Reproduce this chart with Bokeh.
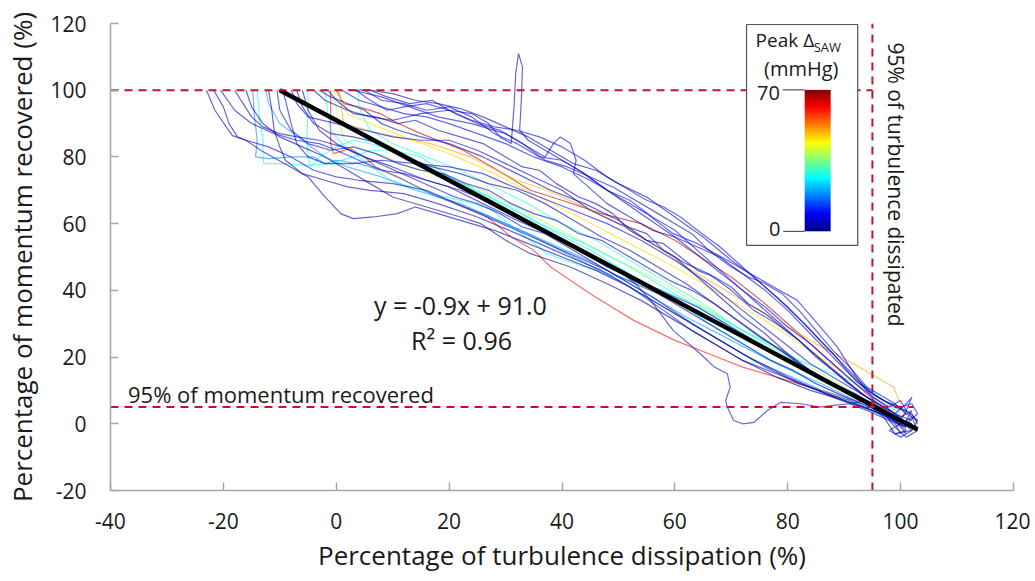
import numpy as np
from bokeh.plotting import figure
from bokeh.models import Range1d, FixedTicker, LinearColorMapper, ColumnDataSource
from bokeh.core.properties import value
from bokeh.embed import file_html
from bokeh.resources import INLINE

# ---------------- data ----------------
x_ticks = [-40, -20, 0, 20, 40, 60, 80, 100, 120]
y_ticks = [-20, 0, 20, 40, 60, 80, 100, 120]

fit_slope = -0.9
fit_intercept = 91.0
fit_x = [-10, 103]

momentum_95 = 5
turbulence_95 = 95
full_recovery = 100

colorbar_low = 0
colorbar_high = 70

# peak delta SAW (mmHg) of each run
peak_delta = [3, 5, 18, 4, 6, 26, 28, 60, 66, 50, 38, 46, 27, 20, 3, 5, 4, 6, 4, 7,
              2, 8, 3, 30, 5, 2, 9, 3, 6, 4, 5]

run01 = [(-23,100),(-21.5,94),(-19.5,89),(-18.4,86.4),(-16,85),(-13.4,82),(-8.1,77),(-5,74),(-2,68),(0.8,63),(3,61.5),(6.6,62),(10.8,63),(14,65),(18,63),(22,61),(28,58),(34,54),(40,50),(46,46),(52,41),(58,35),(64,29),(70,23),(76,17),(82,12),(87,9),(91,7),(95,4),(98,2),(101,-1)]
run02 = [(-21.7,100),(-20,95),(-19,90),(-17.5,86),(-16,85),(-12,83),(-8,80),(-4,76),(0,74),(4,73),(10,72),(16,70),(24,64),(32,58),(40,52),(48,46),(56,38),(64,29),(72,21),(80,14),(88,8),(94,4),(98,1),(101,-1)]
run03 = [(-14.8,100),(-14.5,92),(-14,85),(-14.3,80),(-12,79.5),(-8,80),(-4,80),(-2,78),(0,79),(4,78),(8,76),(12,73),(18,68),(26,63),(34,57),(42,50),(50,43),(58,35),(66,27),(74,19),(82,13),(90,7),(96,3),(100,0)]
run04 = [(-12,100),(-11.5,95),(-11,88),(-10,83),(-9,79),(-6,75),(-2,73),(2,71),(6,70),(12,69),(18,66),(25,62),(32,57),(40,51),(47,46),(52,41),(58,34),(63,28),(67,24),(72,19),(78,15),(84,11),(90,7),(95,4),(99,2),(102,0)]
run05 = [(-9.5,100),(-9,97),(-8,90),(-7,84),(-5,80),(-2,78),(3,78),(8,79),(14,78),(20,77),(26,75),(30,72),(36,68),(42,64),(48,60),(54,55),(60,49),(66,42),(72,34),(78,26),(84,18),(90,12),(95,7),(99,3),(102,1)]
run06 = [(-14,100),(-13.5,90),(-13,86),(-13,80),(-12.8,78),(-9,78),(-5,77.5),(-1,78),(3,80),(6,82),(10,82),(15,80),(20,74),(26,69),(32,64),(38,58),(45,52),(52,45),(60,37),(68,28),(76,20),(84,13),(90,8),(95,4),(99,1)]
run07 = [(-5,100),(-5,94),(-5.2,86),(-5,80),(-4.5,77),(-3,80),(0,83),(3,85),(6,84),(10,82),(14,79),(20,74),(28,67),(36,60),(44,54),(52,47),(60,39),(68,31),(76,23),(84,15),(90,10),(95,5),(99,2)]
run08 = [(-1,100),(-1,92),(-1,84),(-0.5,81),(2.5,82.5),(5,80),(7,77),(11,74),(15.5,70),(21,66),(26.8,62),(31,56),(35,52),(38,47),(45,39),(52.7,31),(60,25),(66,21),(72,17),(78,14),(84,11),(90,8),(94,6),(98,2)]
run09 = [(0,100),(1.3,96),(4,95),(7.8,93),(11,90),(15,87),(22.5,82),(28.6,76),(34.4,70),(40,67),(47,63),(54,60),(60,55),(64.5,50),(70,44),(76,36),(82,27),(88,18),(92,12),(96,6),(99,2)]
run10 = [(0.5,100),(1,94),(1.3,90),(7.8,87),(16.7,84),(23.8,80),(32,73),(37.4,70),(44,65),(50,60),(56,54),(62,47),(68,41),(74,35),(80,29),(86,23),(90.6,19),(94.7,15),(98.7,11),(100,6),(100.5,3)]
run11 = [(-0.5,100),(0,95),(0.5,90),(1.5,85),(5,82),(9,80),(13,77),(19,74),(26,70),(34,63),(42,56),(50,49),(58,42),(66,34),(74,26),(82,19),(88,13),(93,8),(97,4),(100,1)]
run12 = [(0.3,100),(1,97),(2,93),(6,90),(12,86),(20,81),(28,75),(36,68),(44,61),(52,54),(60,47),(68,39),(76,31),(84,22),(90,15),(95,9),(99,4)]
run13 = [(-2,100),(-1.5,93),(-1,88),(1,84),(4,80),(9.6,73),(16.7,69),(22,67),(27.3,64.5),(32,58),(37.4,51),(44,47),(52,43),(58,40),(64.5,35),(72,28),(78,23),(82,19),(88,15),(94,11),(97,7),(100,3)]
run14 = [(-12.5,100),(-12,96),(-10,90),(-6,85),(-2,80),(2,77),(8,74),(14,70),(22,66),(30,60),(38,54),(46,48),(54,40),(62,32),(70,25),(78,18),(86,12),(92,7),(97,3),(101,0)]
run15 = [(2,100),(6,100),(10,99),(14,97),(18,96),(22,94.5),(26,92),(30,89),(34,86),(38,82),(42,78),(46,76),(50,72),(55,68),(60,62),(65,56),(70,49),(74,44),(78,38),(83,30),(88,21),(92,14),(95,9),(98,6),(101,4),(103,1),(102,-2),(99,-3)]
run16 = [(3,100),(8,98),(13,95),(18,92),(24,90),(30,87),(34,83),(37,80),(38.5,84),(39.7,86),(41.5,84),(42.5,79),(42,75),(44,72),(48,66),(52,62),(56,58),(60,56),(64,53),(68,50),(72,45),(76,40),(80,34),(84,27),(88,20),(92,13),(96,8),(99,5),(102,3),(103,0)]
run17 = [(-4,100),(-2,97),(2,94),(6,92),(10,91),(15,93),(20,94),(24,93),(27,90),(29,86),(31,84),(31.5,95),(31.8,105),(32.3,111),(33,107),(32.8,97),(32.5,88),(34,85),(38,81),(43,76),(48,70),(54,63),(60,56),(66,48),(72,40),(78,31),(84,22),(89,15),(93,9),(96,6),(99,3),(101,0)]
run18 = [(-8,100),(-7,96),(-5,92),(0,90),(5,88),(10,86),(15,85),(20,85),(25,82),(30,78),(35,74),(40,70),(45,64),(50,60),(55,57),(58,52),(62,48),(66,45),(70,40),(74,34),(78,30),(82,25),(86,19),(90,13),(94,8),(97,4),(100,1),(102,-2),(100,-4),(98,-2)]
run19 = [(-6,100),(-5,94),(-3,88),(0,84),(5,80),(10,77),(16,73),(22,70),(28,66),(34,60),(40,55),(46,50),(50,46),(53,42),(55.7,37),(59.7,28),(64.5,21),(67,17),(69.3,15),(69.8,11),(69,7),(69.3,5),(70.4,1),(72,0),(74,0.4),(76.4,4),(78.7,6.4),(82.3,6),(85.8,5),(88,5.5),(91,6),(94,7),(96,5),(98,2),(100,-1),(101,-3)]
run20 = [(1,100),(4,97),(8,95),(12,93),(16,92),(20,90),(25,87),(30,84),(35,80),(40,77),(45,73),(50,68),(55,63),(59.7,57),(64,54),(69.3,49),(73.4,45),(77.5,41),(81.7,37),(85.8,29),(88.8,23),(91,17),(93,12),(95,8),(98,5),(100,7),(101,4),(100,1),(102,0)]
run21 = [(-16,100),(-15,95),(-13,90),(-10,86),(-6,83),(-2,80),(2,76),(6,72),(10,68),(16,65),(22,62),(25.6,60),(30,55),(34.4,51),(41.5,47),(48,42),(54,37),(60,31),(66,25),(72,19),(78,14),(84,10),(90,7),(95,4),(99,1),(101,-2)]
run22 = [(3.5,100),(6,97),(9,94),(12,95),(16,96),(20,94),(24,91),(28,89),(32,88),(36,86),(40,83),(44,79),(48,74),(52,70),(55,67),(58,65),(61,62),(64,58),(68,53),(72,47),(76,41),(80,35),(84,28),(88,21),(91,15),(94,10),(97,7),(100,5),(102,6),(103,3),(101,0)]
run23 = [(-3,100),(-1,98),(2,96),(5,94),(8,90),(11,88),(15,86),(20,84),(26,80),(32,75),(38,70),(44,66),(50,61),(55,55),(60,50),(64,44),(68,38),(72,32),(76,27),(80,21),(84,16),(88,12),(92,9),(95,6),(97,3),(99,-1),(101,-4),(103,-2),(102,2),(100,0),(98,-2)]
run24 = [(4,100),(4,95),(6,88),(10,84),(16,80),(22,76),(28,71),(34,66),(40,60),(46,55),(52,49),(58,43),(64,37),(70,30),(76,24),(82,18),(88,12),(93,7),(97,3),(100,1)]
run25 = [(-20.5,100),(-18,94),(-15,90),(-11,87),(-7,85),(-3,84),(0,82),(4,79),(8,76),(12,75),(16,73),(20,71),(26,66),(32,61),(40,55),(48,47),(56,41),(64,35),(72,27),(80,19),(86,13),(91,9),(95,5),(98,2)]
run26 = [(-7,100),(-6,95),(-4,90),(-1,87),(3,86),(8,84),(12,80),(17,77),(22,75),(27,72),(32,70),(37,66),(42,61),(47,56),(52,52),(57,47),(62,42),(67,36),(72,30),(77,24),(82,18),(87,13),(91,9),(94,6),(97,2),(99,-3),(101,-2)]
run27 = [(5,100),(8,97),(12,96),(16,94),(20,95),(24,92),(28,87),(32,84),(36,80),(40,79),(44,75),(48,70),(52,67),(56,62),(60,58),(64,52),(68,46),(72,40),(76,35),(80,29),(84,24),(88,18),(92,12),(96,7),(99,3),(101,6),(102,8),(101,4)]
run28 = [(-1.5,100),(0,97),(3,93),(7,92),(11,90),(14,91),(18,88),(22,86),(26,84),(30,80),(33,77),(36,76),(39,72),(43,68),(46,66),(49,63),(52,58),(55,55),(58,54),(61,50),(64,46),(67,44),(70,41),(73,36),(76,33),(79,29),(82,25),(85,20),(88,16),(91,12),(94,8),(96,6),(98,4),(100,2),(102,4),(101,1)]
run29 = [(-10.5,100),(-10,94),(-8,88),(-5,84),(-1,82),(3,83),(7,81),(11,78),(15,76),(19,75),(23,72),(27,70),(31,66),(35,63),(39,61),(43,57),(47,55),(51,51),(55,47),(59,43),(63,40),(67,36),(71,31),(75,26),(79,22),(83,17),(87,13),(91,9),(94,6),(97,3),(99,0),(100,-3)]
run30 = [(6,100),(9,98),(13,96),(17,97),(21,93),(25,90),(29,88),(33,84),(37,79),(41,77),(45,74),(49,71),(53,67),(57,63),(60,60),(63,57),(66,52),(70,47),(73,44),(76,42),(79,39),(82,34),(85,28),(88,22),(91,17),(94,11),(97,8),(99,6),(101,3),(103,1)]
run31 = [(-18,100),(-16.5,96),(-15,92),(-13,89),(-10,87),(-7,86),(-3,85),(1,83),(5,80),(9,77),(13,74),(17,71),(21,68),(25,66),(29,63),(33,59),(37,57),(41,53),(45,49),(49,45),(53,42),(57,39),(61,35),(65,31),(69,27),(73,23),(77,19),(81,16),(85,12),(89,9),(93,6),(96,4),(99,1),(101,-1)]

runs = [run01, run02, run03, run04, run05, run06, run07, run08, run09, run10,
        run11, run12, run13, run14, run15, run16, run17, run18, run19, run20,
        run21, run22, run23, run24, run25, run26, run27, run28, run29, run30, run31]

# ---------------- style ----------------
FONT = "Open Sans"
TXT = "#1a1a1a"
RED = "#c8102e"
AXIS = "#a6a6a6"


def jet_hex(t):
    def c(v):
        return int(round(255 * min(max(v, 0.0), 1.0)))
    r = c(1.5 - abs(4 * t - 3))
    g = c(1.5 - abs(4 * t - 2))
    b = c(1.5 - abs(4 * t - 1))
    return "#%02x%02x%02x" % (r, g, b)


jet = [jet_hex(i / 255) for i in range(256)]


def delta_color(d):
    i = int(round((d - colorbar_low) / (colorbar_high - colorbar_low) * 255))
    return jet[max(0, min(255, i))]


p = figure(width=1030, height=581,
           x_range=Range1d(-40, 120), y_range=Range1d(-20, 120),
           output_backend="svg", toolbar_location=None,
           min_border_left=110, min_border_right=17,
           min_border_top=23, min_border_bottom=91)
p.outline_line_color = None
p.grid.visible = False
p.background_fill_color = "white"
p.border_fill_color = "white"

for ax, ticks in ((p.xaxis, x_ticks), (p.yaxis, y_ticks)):
    ax.ticker = FixedTicker(ticks=ticks)
    ax.major_label_overrides = {t: str(t) for t in ticks}
    ax.axis_line_color = AXIS
    ax.axis_line_width = 1.5
    ax.major_tick_line_color = AXIS
    ax.major_tick_line_width = 1.5
    ax.major_tick_in = 8
    ax.major_tick_out = 0
    ax.minor_tick_line_color = None
    ax.major_label_text_font = FONT
    ax.major_label_text_font_size = "21px"
    ax.major_label_text_color = TXT
    ax.axis_label_text_font = FONT
    ax.axis_label_text_font_size = "26px"
    ax.axis_label_text_font_style = "normal"
    ax.axis_label_text_color = TXT

p.xaxis.axis_label = "Percentage of turbulence dissipation (%)"
p.yaxis.axis_label = "Percentage of momentum recovered (%)"
p.xaxis.major_label_standoff = 22
p.yaxis.major_label_standoff = 24
p.xaxis.axis_label_standoff = 5
p.yaxis.axis_label_standoff = 7

# ---------------- curves ----------------
xs = [[pt[0] for pt in r] for r in runs]
ys = [[pt[1] for pt in r] for r in runs]
cols = [delta_color(d) for d in peak_delta]
order = sorted(range(len(runs)), key=lambda i: -peak_delta[i])
src = ColumnDataSource(dict(xs=[xs[i] for i in order], ys=[ys[i] for i in order],
                            color=[cols[i] for i in order]))
p.multi_line(xs="xs", ys="ys", line_color="color", line_width=1.2, line_alpha=0.6, source=src)

# regression line
fit_y = [fit_slope * v + fit_intercept for v in fit_x]
p.line(fit_x, fit_y, line_color="black", line_width=4.5)

# threshold dashed lines
p.segment(x0=[-40], y0=[full_recovery], x1=[turbulence_95], y1=[full_recovery],
          line_color=RED, line_width=2, line_dash="8 6")
p.segment(x0=[-40], y0=[momentum_95], x1=[102.3], y1=[momentum_95],
          line_color=RED, line_width=2, line_dash="8 6")
p.segment(x0=[turbulence_95], y0=[-20], x1=[turbulence_95], y1=[120],
          line_color=RED, line_width=2, line_dash="8 6")

# annotations
p.text(x=[22.0], y=[35.5], text=["y = -0.9x + 91.0"], text_font=value(FONT),
       text_font_size="25px", text_color=TXT, text_align="center", text_baseline="middle")
p.text(x=[22.2], y=[25.0], text=["R² = 0.96"], text_font=value(FONT),
       text_font_size="25px", text_color=TXT, text_align="center", text_baseline="middle")
p.text(x=[-36.9], y=[8.8], text=["95% of momentum recovered"], text_font=value(FONT),
       text_font_size="22px", text_color=TXT, text_align="left", text_baseline="middle")
p.text(x=[99.1], y=[114.3], text=["95% of turbulence dissipated"], text_font=value(FONT),
       text_font_size="21px", text_color=TXT, text_align="left", text_baseline="middle",
       angle=-np.pi / 2)

# colour-scale inset
p.quad(left=[72.7], right=[92.4], top=[119.7], bottom=[53.5],
       fill_color="white", line_color="#555555", line_width=1.2)
mapper = LinearColorMapper(palette=jet, low=colorbar_low, high=colorbar_high)
grad = np.linspace(colorbar_low, colorbar_high, 256).reshape(-1, 1)
p.image(image=[grad], x=83.0, y=57.7, dw=4.6, dh=42.4, color_mapper=mapper)
p.segment(x0=[79.1, 79.2], y0=[100.1, 57.7], x1=[83.0, 83.0], y1=[100.1, 57.7],
          line_color="#333333", line_width=1)
p.text(x=[78.6, 78.7], y=[99.2, 58.5], text=[str(colorbar_high), str(colorbar_low)],
       text_font=value(FONT), text_font_size="20px", text_color=TXT,
       text_align="right", text_baseline="middle")
p.text(x=[74.3], y=[115.2], text=["Peak Δ"], text_font=value(FONT),
       text_font_size="19px", text_color=TXT, text_align="left", text_baseline="middle")
p.text(x=[84.6], y=[113.0], text=["SAW"], text_font=value(FONT),
       text_font_size="13px", text_color=TXT, text_align="left", text_baseline="middle")
p.text(x=[82.4], y=[106.5], text=["(mmHg)"], text_font=value(FONT),
       text_font_size="20px", text_color=TXT, text_align="center", text_baseline="middle")

open("out.html", "w").write(file_html(p, INLINE))
